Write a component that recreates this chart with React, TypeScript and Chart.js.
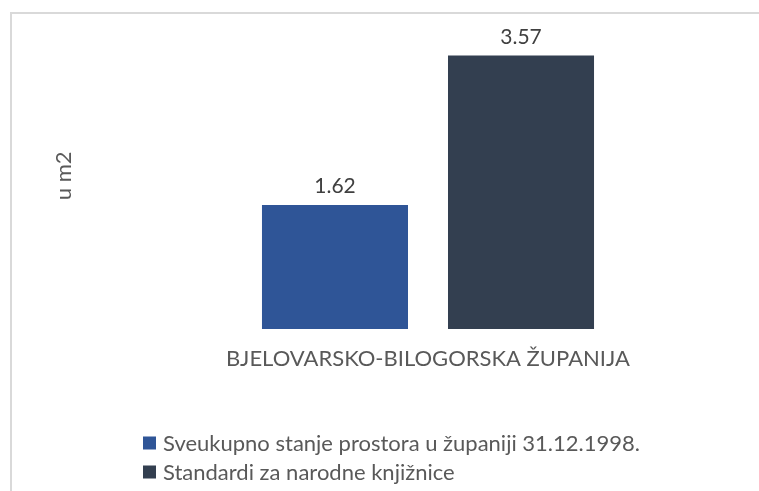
import React, { useEffect, useRef } from "react";
import { Chart, registerables } from "chart.js";

Chart.register(...registerables);

const categories = ["BJELOVARSKO-BILOGORSKA ŽUPANIJA"];
const seriesNames = [
  "Sveukupno stanje prostora u županiji 31.12.1998.",
  "Standardi za narodne knjižnice",
];
const currentValues = [1.62];
const standardValues = [3.57];
const seriesColors = ["#2F5597", "#333F50"];
const yAxisTitle = "u m2";

const FONT = "Lato, 'Open Sans', sans-serif";
const TEXT = "#595959";

const framePlugin = {
  id: "frame",
  beforeDraw(chart: any) {
    const ctx = chart.ctx;
    ctx.save();
    ctx.fillStyle = "#ffffff";
    ctx.fillRect(0, 0, chart.width, chart.height);
    ctx.strokeStyle = "#d9d9d9";
    ctx.lineWidth = 2;
    ctx.strokeRect(11, 13, chart.width + 20, chart.height + 20);
    ctx.restore();
  },
};

const labelsPlugin = {
  id: "valueLabels",
  afterDatasetsDraw(chart: any) {
    const ctx = chart.ctx;
    ctx.save();
    ctx.font = `21px ${FONT}`;
    ctx.fillStyle = "#404040";
    ctx.textAlign = "center";
    ctx.textBaseline = "alphabetic";
    chart.data.datasets.forEach((ds: any, i: number) => {
      const meta = chart.getDatasetMeta(i);
      meta.data.forEach((bar: any, j: number) => {
        ctx.fillText(Number(ds.data[j]).toFixed(2), bar.x, bar.y - 12);
      });
    });
    ctx.restore();
  },
};

const legendPlugin = {
  id: "customLegend",
  afterDraw(chart: any) {
    const ctx = chart.ctx;
    ctx.save();
    ctx.font = `22px ${FONT}`;
    ctx.textBaseline = "middle";
    ctx.textAlign = "left";
    const x0 = 143;
    const rows = [443, 472];
    chart.data.datasets.forEach((ds: any, i: number) => {
      const y = rows[i];
      ctx.fillStyle = ds.backgroundColor;
      ctx.fillRect(x0, y - 6.5, 13, 13);
      ctx.fillStyle = TEXT;
      ctx.fillText(ds.label, x0 + 20, y + 1);
    });
    ctx.restore();
  },
};

export default function App() {
  const ref = useRef<HTMLCanvasElement>(null);
  useEffect(() => {
    if (!ref.current) return;
    const chart = new Chart(ref.current, {
      type: "bar",
      data: {
        labels: categories,
        datasets: [
          {
            label: seriesNames[0],
            data: currentValues,
            backgroundColor: seriesColors[0],
            categoryPercentage: 0.562,
            barPercentage: 0.785,
          },
          {
            label: seriesNames[1],
            data: standardValues,
            backgroundColor: seriesColors[1],
            categoryPercentage: 0.562,
            barPercentage: 0.785,
          },
        ],
      },
      options: {
        animation: false,
        responsive: false,
        layout: { padding: { left: 51, top: 22.6, right: 0, bottom: 101.6 } },
        plugins: {
          legend: { display: false },
          tooltip: { enabled: false },
        },
        scales: {
          x: {
            grid: { display: false, drawTicks: false },
            border: { display: false },
            ticks: {
              color: TEXT,
              font: { family: FONT, size: 22 },
              padding: 17,
            },
          },
          y: {
            min: 0,
            max: 4,
            grid: { display: false, drawTicks: false },
            border: { display: false },
            ticks: { display: false },
            title: {
              display: true,
              text: yAxisTitle,
              color: TEXT,
              font: { family: FONT, size: 22 },
              padding: { top: 0, bottom: 19.6 },
            },
          },
        },
      },
      plugins: [framePlugin, labelsPlugin, legendPlugin],
    });
    return () => chart.destroy();
  }, []);
  return (
    <div style={{ position: "fixed", left: 0, top: 0, width: 759, height: 491 }}>
      <canvas ref={ref} width={759} height={491} />
    </div>
  );
}
